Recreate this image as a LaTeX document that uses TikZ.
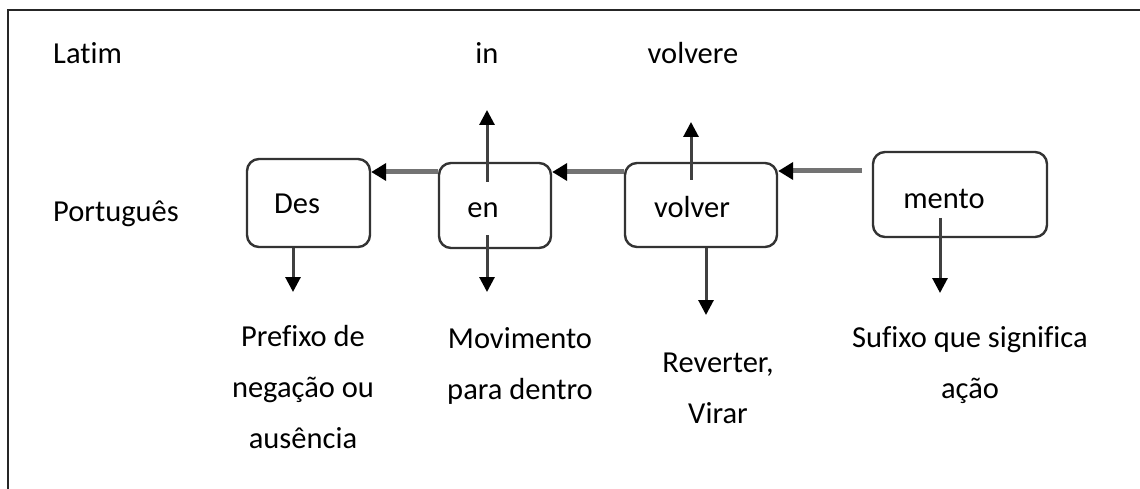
\documentclass[tikz,border=0pt]{standalone}
\usepackage{fontspec}
\setmainfont{Carlito}[Ligatures=NoCommon]
\usetikzlibrary{arrows.meta}
\begin{document}
\begin{tikzpicture}[x=1pt,y=-1pt,
  box/.style={draw=black!80,line width=2.4pt,rounded corners=12pt,inner sep=0pt},
  txt/.style={font=\fontsize{30.5}{51}\selectfont,inner sep=0pt,anchor=base,align=center},
  harrow/.style={draw=black!55,line width=5pt,-{Triangle[width=17pt,length=15pt,color=black]}},
  varrow/.style={draw=black!75,line width=3pt,-{Triangle[width=15pt,length=15pt,color=black]}}]
\useasboundingbox (0,0) rectangle (1140,489);
\draw[line width=2.5pt,black!85] (8,489) -- (8,10) -- (1140,10);
% boxes
\node[box,minimum width=123pt,minimum height=88pt] (des) at (308.5,203) {};
\node[box,minimum width=112pt,minimum height=85pt] (en) at (495,205.5) {};
\node[box,minimum width=152pt,minimum height=84pt] (volver) at (701,205) {};
\node[box,minimum width=174pt,minimum height=85pt] (mento) at (960,194.5) {};
% texts
\node[txt,anchor=base west] (latim) at (53,64) {Latim};
\node[txt,anchor=base west] (port) at (53,222) {Português};
\node[txt] (in) at (487,64) {in};
\node[txt] (volvere) at (693,64) {volvere};
\node[txt] (tdes) at (297,214) {Des};
\node[txt] (ten) at (483,218) {en};
\node[txt] (tvolver) at (692,218) {volver};
\node[txt] (tmento) at (944,208) {mento};
\node[txt] (ldes) at (303,448) {Prefixo de\\negação ou\\ausência};
\node[txt] (len) at (520,399) {Movimento\\para dentro};
\node[txt] (lvolver) at (718,423) {Reverter,\\Virar};
\node[txt] (lmento) at (970,398) {Sufixo que significa\\ação};
% connector end points
\coordinate (mstart) at (862,171);
\coordinate (enup0) at (487,182);
\coordinate (enup1) at (487,110);
\coordinate (endn0) at (487,235);
\coordinate (endn1) at (487,292);
\coordinate (vup0) at (691,180);
\coordinate (vup1) at (691,122);
\coordinate (vdn1) at (706,315);
\coordinate (ddn1) at (293,292);
\coordinate (mdn0) at (940,218);
\coordinate (mdn1) at (940,293);
% horizontal arrows
\draw[harrow] (mstart) -- (volver.east |- mstart);
\draw[harrow] (volver.west |- 0,172) -- (en.east |- 0,172);
\draw[harrow] (en.west |- 0,172) -- (des.east |- 0,172);
% vertical arrows
\draw[varrow] (enup0) -- (enup1);
\draw[varrow] (endn0) -- (endn1);
\draw[varrow] (vup0) -- (vup1);
\draw[varrow] (volver.south -| vdn1) -- (vdn1);
\draw[varrow] (des.south -| ddn1) -- (ddn1);
\draw[varrow] (mdn0) -- (mdn1);
\end{tikzpicture}
\end{document}
